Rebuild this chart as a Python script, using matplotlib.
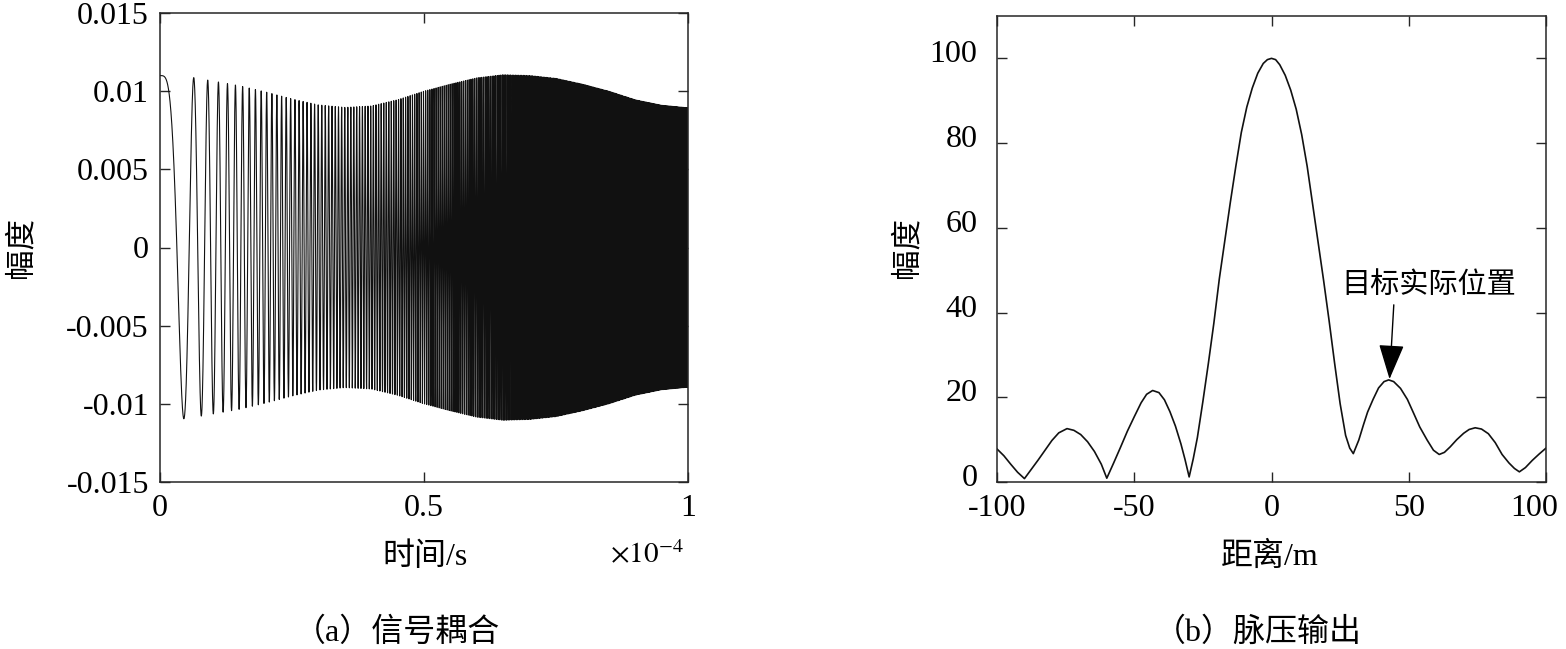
import numpy as np
import matplotlib.pyplot as plt
from matplotlib.transforms import ScaledTranslation

plt.rcParams["font.family"] = ["Liberation Serif", "Noto Sans CJK SC"]
plt.rcParams["mathtext.fontset"] = "stix"
plt.rcParams["axes.unicode_minus"] = False

# (a) coupled chirp signal, time axis in units of 1e-4 s
env_t = [0.0, 0.05, 0.10, 0.15, 0.20, 0.25, 0.30, 0.35, 0.40, 0.45, 0.50,
         0.55, 0.60, 0.65, 0.70, 0.75, 0.80, 0.85, 0.90, 0.95, 1.0]
env_amp = [0.0110, 0.01095, 0.01065, 0.01035, 0.00995, 0.0095, 0.00912,
           0.00896, 0.00905, 0.00945, 0.0100, 0.01045, 0.01085, 0.01105,
           0.0110, 0.01082, 0.01045, 0.0100, 0.00945, 0.0091, 0.00894]
chirp_rate = 490.0      # per (1e-4 s)^2
n_samples = 40000

# (b) pulse compression output
dist_m = [-100, -97.5, -95, -92.5, -90,
          -87.5, -85, -82.5, -80, -77.5, -74.5, -72, -69.5, -67, -64.5, -62, -60,
          -57.5, -55, -52.5, -50, -47.5, -45.5, -43.3, -41, -39, -37, -35, -33,
          -31.5, -30,
          -28.5, -27, -25, -23, -21, -19, -17, -15, -13, -11, -9, -7, -5, -3,
          -1.5, 0, 1.5, 3, 5, 7, 9, 11, 13, 15, 17, 19, 21, 23, 25, 27, 28.5,
          29.8,
          31.8, 33.5, 35, 37, 39, 41, 42.7, 44.5, 47, 49.5, 51.8, 54, 56.7, 59,
          61.1,
          63, 65.1, 67.5, 70, 72, 74.2, 76.5, 79, 81.5, 84, 86.5, 88.5, 90.3,
          92.5, 95, 97.5, 100]
amp_b = [7.8, 6.2, 4.2, 2.3, 0.8,
         3.0, 5.2, 7.5, 9.8, 11.6, 12.6, 12.2, 11.2, 9.5, 7.2, 4.2, 0.9,
         4.5, 8.2, 12.0, 15.4, 18.7, 20.7, 21.6, 21.1, 19.4, 16.6, 13.2, 9.0,
         5.3, 1.2,
         5.5, 10.5, 19.0, 28.0, 37.5, 48.0, 57.0, 66.0, 74.5, 82.5, 88.5, 93.0,
         96.5, 98.8, 99.7, 100, 99.7, 98.5, 96.0, 92.5, 88.0, 82.0, 74.5, 65.5,
         56.5, 47.5, 38.0, 28.0, 18.5, 11.0, 8.0, 6.7,
         9.9, 13.5, 16.5, 19.5, 22.2, 23.7, 24.1, 23.7, 22.1, 19.5, 16.2, 13.0,
         9.9, 7.5, 6.5,
         7.0, 8.3, 10.0, 11.5, 12.4, 12.8, 12.5, 11.4, 9.3, 6.5, 4.5, 3.2, 2.4,
         3.4, 5.1, 6.6, 8.0]

W, H = 1566, 649
fig = plt.figure(figsize=(W / 100, H / 100), dpi=100)


def px_axes(x0, y0, x1, y1):
    return fig.add_axes([x0 / W, 1 - y1 / H, (x1 - x0) / W, (y1 - y0) / H])


def px_text(x, y, s, **kw):
    fig.text(x / W, 1 - y / H, s, **kw)


def shift(label, dx, dy):
    # move a tick label by dx, dy pixels
    label.set_transform(label.get_transform() +
                        ScaledTranslation(dx / 100, dy / 100, fig.dpi_scale_trans))


def style(ax, ypad):
    for sp in ax.spines.values():
        sp.set_linewidth(1.1)
        sp.set_color("#262626")
    ax.tick_params(direction="in", top=True, right=True, length=7, width=1,
                   color="#262626", labelsize=23)
    ax.tick_params(axis="x", pad=9)
    ax.tick_params(axis="y", pad=ypad)


# left panel
ax1 = px_axes(160, 13, 688, 482)
t = np.linspace(0, 1, n_samples)
env = np.interp(t, env_t, env_amp)
sig = env * np.cos(np.pi * chirp_rate * t ** 2)
ax1.plot(t, sig, color="#111111", lw=0.8)
ax1.set_xlim(0, 1)
ax1.set_ylim(-0.015, 0.015)
ax1.set_xticks([0, 0.5, 1])
ax1.set_xticklabels(["0", "0.5", "1"])
yt = [0.015, 0.01, 0.005, 0, -0.005, -0.01, -0.015]
ax1.set_yticks(yt)
ax1.set_yticklabels(["0.015", "0.01", "0.005", "0", "-0.005", "-0.01", "-0.015"])
style(ax1, 8)

# right panel
ax2 = px_axes(997, 16, 1546, 482)
ax2.plot(dist_m, amp_b, color="#111111", lw=1.2)
ax2.set_xlim(-100, 100)
ax2.set_ylim(0, 110)
ax2.set_xticks([-100, -50, 0, 50, 100])
ax2.set_xticklabels(["-100", "-50", "0", "50", "100"])
ax2.set_yticks([0, 20, 40, 60, 80, 100])
style(ax2, 14)
for lab in ax2.get_yticklabels():
    shift(lab, 0, 7)
shift(ax2.get_xticklabels()[-1], -12, 0)
ax2.annotate("目标实际位置", xy=(43, 24.3), xytext=(57.4, 46.3),
             ha="center", va="center", fontsize=21,
             arrowprops=dict(arrowstyle="-|>,head_length=1.1,head_width=0.4",
                             mutation_scale=20, lw=1, color="k",
                             relpos=(0.3, 0.0), shrinkA=2, shrinkB=0))

# labels
px_text(22, 248, "幅度", rotation=90, ha="center", va="center", fontsize=22)
px_text(908, 248, "幅度", rotation=90, ha="center", va="center", fontsize=22)
px_text(425, 557, "时间/s", ha="center", va="center", fontsize=23)
px_text(684, 555, r"$\times10^{-4}$", ha="right", va="center", fontsize=21)
px_text(1270, 557, "距离/m", ha="center", va="center", fontsize=23)
px_text(397, 633, "（a）信号耦合", ha="center", va="center", fontsize=23)
px_text(1258, 633, "（b）脉压输出", ha="center", va="center", fontsize=23)

fig.savefig("out.png", dpi=100)
